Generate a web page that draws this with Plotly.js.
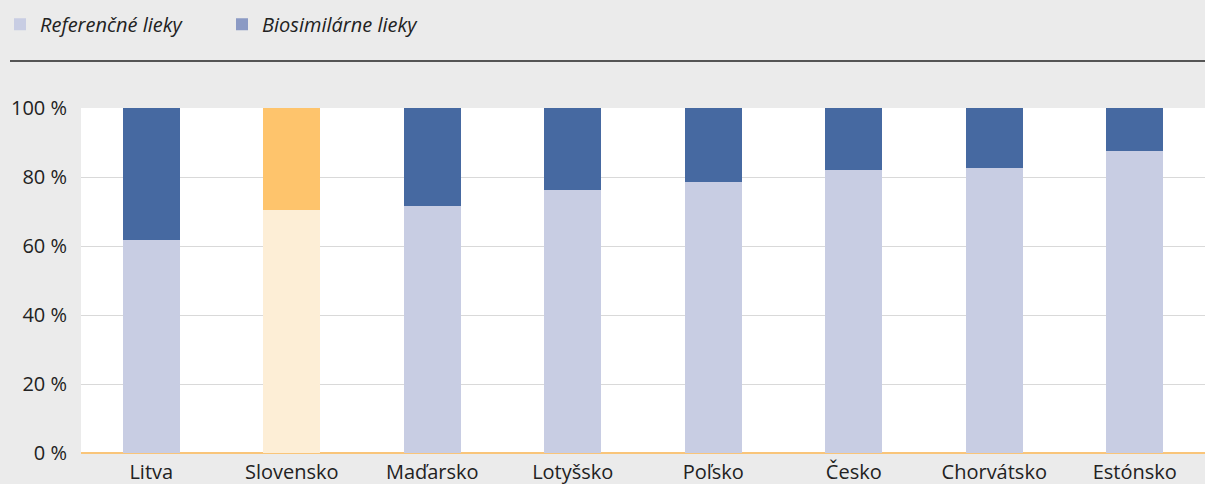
<!DOCTYPE html>
<html><head><meta charset="utf-8">
<script src="https://cdn.plot.ly/plotly-3.0.1.min.js"></script>
<style>html,body{margin:0;padding:0;background:#ebebeb;}#chart{width:1205px;height:484px;}</style>
</head><body><div id="chart"></div>
<script>
const categories = ["Litva","Slovensko","Maďarsko","Lotyšsko","Poľsko","Česko","Chorvátsko","Estónsko"];
const referencne = [61.8, 70.4, 71.6, 76.2, 78.6, 82.0, 82.6, 87.5];
const biosimilarne = referencne.map(v => 100 - v);
const tickVals = [0,20,40,60,80,100];
const tickText = ["0 %","20 %","40 %","60 %","80 %","100 %"];
const highlight = "Slovensko";

const refColors = categories.map(c => c === highlight ? "#fdeed6" : "#c8cde3");
const bioColors = categories.map(c => c === highlight ? "#fec46c" : "#4669a1");

const traces = [
  {type:"bar", x:categories, y:referencne, marker:{color:refColors}, showlegend:false, hoverinfo:"x+y"},
  {type:"bar", x:categories, y:biosimilarne, marker:{color:bioColors}, showlegend:false, hoverinfo:"x+y"},
  {type:"bar", x:[null], y:[null], name:"Referenčné lieky", marker:{color:"#c8cde3"}, showlegend:true},
  {type:"bar", x:[null], y:[null], name:"Biosimilárne lieky", marker:{color:"#8b9ac4"}, showlegend:true}
];

const layout = {
  width:1205, height:484,
  barmode:"stack", bargap:0.595,
  paper_bgcolor:"#ebebeb", plot_bgcolor:"#ffffff",
  margin:{l:81, r:0, t:108, b:31, pad:0},
  font:{family:"Open Sans, Noto Sans, sans-serif", size:20, color:"#222222"},
  showlegend:true,
  legend:{orientation:"h", x:0, xref:"container", xanchor:"left", y:0.99, yref:"container", yanchor:"top",
          font:{size:20, style:"italic"}, traceorder:"normal", entrywidth:177, entrywidthmode:"pixels",
          bgcolor:"rgba(0,0,0,0)", tracegroupgap:0},
  xaxis:{type:"category", showgrid:false, zeroline:false, showline:false, ticks:"", ticklabelstandoff:5, fixedrange:true},
  yaxis:{range:[0,100], tickvals:tickVals, ticktext:tickText, showgrid:true, gridcolor:"#d9d9d9", gridwidth:1,
         zeroline:true, zerolinecolor:"#f9c57a", zerolinewidth:2, showline:false, ticks:"", ticklabelstandoff:13, fixedrange:true},
  shapes:[{type:"line", xref:"paper", yref:"paper", x0:-71/1124, x1:1, y0:(484-61-31)/345, y1:(484-61-31)/345, line:{color:"#555555", width:2}}]
};
Plotly.newPlot("chart", traces, layout, {displayModeBar:false, staticPlot:true});
</script></body></html>
